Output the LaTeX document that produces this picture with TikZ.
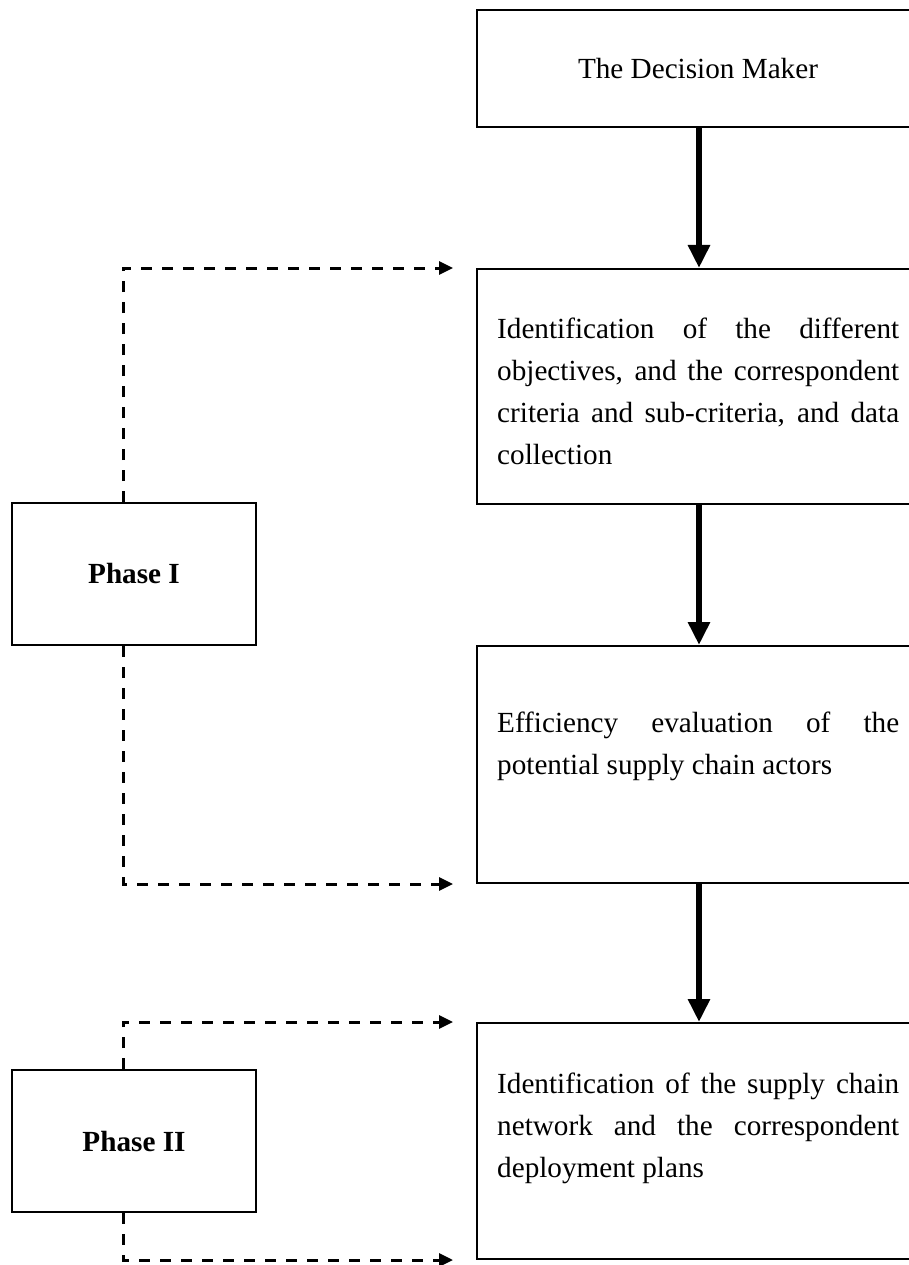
\documentclass[tikz,border=0pt]{standalone}
\usepackage{fontspec}
\setmainfont{Liberation Serif}
\usetikzlibrary{arrows.meta}
\newcommand\bodysize{\fontsize{29.2pt}{42pt}\selectfont}
\begin{document}
\begin{tikzpicture}[x=1pt,y=-1pt,
  stepbox/.style={draw=black, line width=2pt, rectangle, inner sep=0pt,
    minimum width=444pt, anchor=north west},
  phasebox/.style={draw=black, line width=2pt, rectangle, inner sep=0pt,
    minimum width=244pt, minimum height=142pt, font=\bodysize\bfseries},
  bodytext/.style={text width=402pt, align=justify, inner sep=0pt,
    anchor=north west, font=\bodysize},
  flow/.style={line width=6.5pt, -{Triangle[length=23pt,width=21pt]}},
  feedback/.style={line width=3pt, dash pattern=on 11pt off 10pt,
    -{Triangle[length=14pt,width=13pt]}}
]
\path[use as bounding box] (0,0) rectangle (909,1265);
\clip (0,0) rectangle (909,1265);

% main chain of steps
\node[stepbox, minimum height=117pt] (dm)  at (476,9)    {};
\node[stepbox, minimum height=235pt] (obj) at (476,268)  {};
\node[stepbox, minimum height=237pt] (eff) at (476,645)  {};
\node[stepbox, minimum height=236pt] (net) at (476,1022) {};

\node[anchor=base, inner sep=0pt, font=\bodysize] (dmtext) at (698,79)
  {The Decision Maker};
\node[bodytext] (objtext) at (497,318)
  {Identification of the different\linebreak
   objectives, and the correspondent\linebreak
   criteria and sub-criteria, and data\linebreak
   collection};
\node[bodytext] (efftext) at (497,712)
  {Efficiency evaluation of the\linebreak
   potential supply chain actors};
\node[bodytext] (nettext) at (497,1073)
  {Identification of the supply chain\linebreak
   network and the correspondent\linebreak
   deployment plans};

% phases
\node[phasebox] (p1) at (134,574)  {Phase I};
\node[phasebox] (p2) at (134,1141) {Phase II};

% flow between steps
\draw[flow] (dm.south)  -- (obj.north);
\draw[flow] (obj.south) -- (eff.north);
\draw[flow] (eff.south) -- (net.north);

% phase scopes
\draw[feedback] ([xshift=-11pt]p1.north) |- ([xshift=-23pt]obj.north west);
\draw[feedback] ([xshift=-11pt]p1.south) |- ([xshift=-23pt]eff.south west);
\draw[feedback] ([xshift=-11pt]p2.north) |- ([xshift=-23pt]net.north west);
\draw[feedback] ([xshift=-11pt]p2.south) |- ([xshift=-23pt]net.south west);
\end{tikzpicture}
\end{document}
